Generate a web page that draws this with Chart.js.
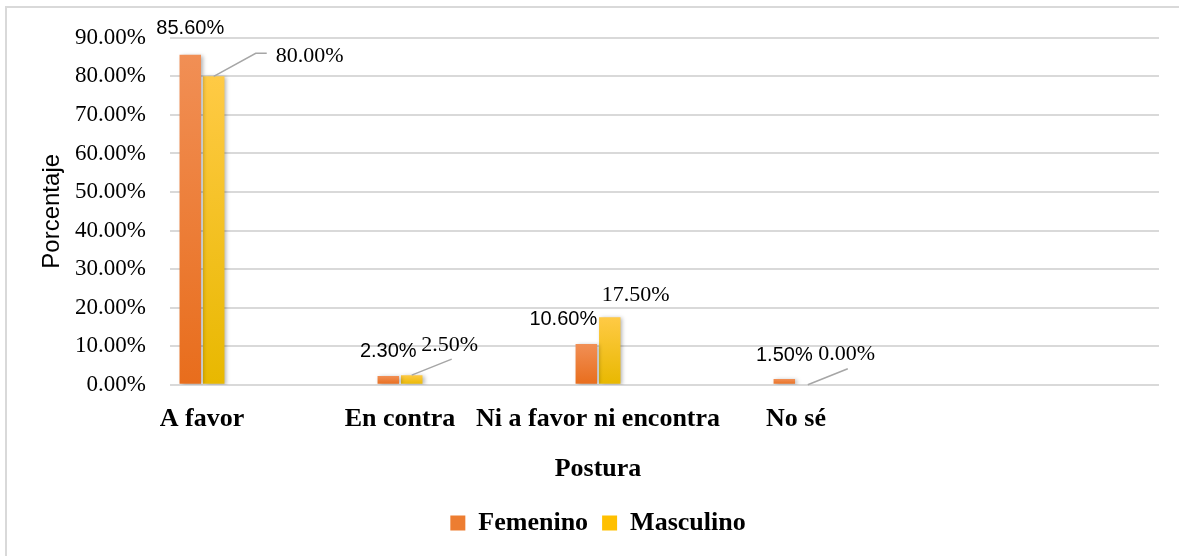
<!DOCTYPE html>
<html>
<head>
<meta charset="utf-8">
<script src="https://cdn.jsdelivr.net/npm/chart.js@4/dist/chart.umd.min.js"></script>
<style>
  body { margin: 0; background: #fff; }
  canvas { display: block; }
</style>
</head>
<body>
<canvas id="myChart" width="1179" height="556"></canvas>
<script>
// data
const categories = ['A favor', 'En contra', 'Ni a favor ni encontra', 'No sé'];
const femenino = [85.6, 2.3, 10.6, 1.5];
const masculino = [80.0, 2.5, 17.5, 0.0];
const seriesNames = ['Femenino', 'Masculino'];
const yTicks = [0, 10, 20, 30, 40, 50, 60, 70, 80, 90];

// label nudges (px from top centre of each bar), and leader lines
const labelShift = [
    [[0, -26], [0, -24], [-23, -24], [0, -24]],
    [[96, -20], [38, -30], [26, -22], [39, -31]]
];
const leaders = [
    [null, null, null, null],
    [[[42, -23], [53, -23]], [[40, -16]], null, [[40, -16]]]
];
const labelFonts = ['20px "Liberation Sans"', '22px "Liberation Serif"'];

function barGradient(top, bottom) {
    return function(ctx) {
        const chart = ctx.chart;
        if (!chart.chartArea || !ctx.parsed) return bottom;
        const y = chart.scales.y;
        const y0 = y.getPixelForValue(ctx.parsed.y);
        const y1 = y.getPixelForValue(0);
        if (y1 - y0 < 2) return bottom;
        const g = chart.ctx.createLinearGradient(0, y0, 0, y1);
        g.addColorStop(0, top);
        g.addColorStop(1, bottom);
        return g;
    };
}

const solid = ['#ED7D31', '#FFC000'];

const frame = {
    id: 'frame',
    beforeDraw(chart) {
        const c = chart.ctx;
        c.save();
        c.strokeStyle = '#d9d9d9';
        c.lineWidth = 2;
        c.beginPath();
        c.moveTo(6, 556);
        c.lineTo(6, 7);
        c.lineTo(1179, 7);
        c.stroke();
        c.restore();
    }
};

const barLabels = {
    id: 'barLabels',
    beforeDatasetsDraw(chart) {
        const c = chart.ctx;
        c.save();
        c.shadowColor = 'rgba(0,0,0,0.3)';
        c.shadowBlur = 4;
        c.shadowOffsetX = 2;
        c.shadowOffsetY = 1;
    },
    afterDatasetsDraw(chart) {
        const c = chart.ctx;
        c.restore();
        c.save();
        chart.data.datasets.forEach((ds, di) => {
            const meta = chart.getDatasetMeta(di);
            meta.data.forEach((bar, i) => {
                const v = ds.data[i].y;
                const sh = labelShift[di][i];
                const lines = leaders[di][i];
                if (lines) {
                    c.strokeStyle = '#a6a6a6';
                    c.lineWidth = 1.5;
                    c.beginPath();
                    c.moveTo(bar.x, bar.y);
                    lines.forEach(p => c.lineTo(bar.x + p[0], bar.y + p[1]));
                    c.stroke();
                }
                c.font = labelFonts[di];
                c.fillStyle = '#000';
                c.textAlign = 'center';
                c.textBaseline = 'middle';
                c.fillText(v.toFixed(2) + '%', bar.x + sh[0], bar.y + sh[1]);
            });
        });
        c.restore();
    }
};

const chart_data = {
    datasets: [{
        label: seriesNames[0],
        data: femenino.map((v, i) => ({x: i, y: v})),
        backgroundColor: barGradient('#F18F55', '#E86D1C'),
        categoryPercentage: 0.237,
        barPercentage: 0.915
    }, {
        label: seriesNames[1],
        data: masculino.map((v, i) => ({x: i, y: v})),
        backgroundColor: barGradient('#FFCA45', '#E8B800'),
        categoryPercentage: 0.237,
        barPercentage: 0.915
    }]
};

const boldSerif = {family: 'Liberation Serif', size: 26, weight: 'bold'};

const config = {
    type: 'bar',
    data: chart_data,
    plugins: [frame, barLabels],
    options: {
        responsive: false,
        animation: false,
        layout: {
            padding: {top: 37, right: 20, left: 37, bottom: 10}
        },
        plugins: {
            tooltip: {enabled: false},
            title: {
                display: true,
                text: 'Postura',
                position: 'bottom',
                weight: 500,
                color: '#000',
                font: boldSerif,
                padding: {top: 9, bottom: 11}
            },
            legend: {
                position: 'bottom',
                weight: 1000,
                labels: {
                    color: '#000',
                    font: boldSerif,
                    boxWidth: 15,
                    boxHeight: 15,
                    padding: 14,
                    generateLabels(chart) {
                        const items = Chart.defaults.plugins.legend.labels.generateLabels(chart);
                        items.forEach((it, i) => {
                            it.fillStyle = solid[i];
                            it.strokeStyle = solid[i];
                            it.lineWidth = 0;
                        });
                        return items;
                    }
                }
            }
        },
        scales: {
            x: {
                type: 'linear',
                offset: false,
                min: -0.1616,
                max: 4.833,
                grid: {display: false},
                border: {display: false},
                afterBuildTicks: scale => {
                    scale.ticks = categories.map((c, i) => ({value: i}));
                },
                afterFit: scale => { scale.height = 60; },
                ticks: {
                    autoSkip: false,
                    maxRotation: 0,
                    padding: 11,
                    color: '#000',
                    font: boldSerif,
                    callback: v => categories[v] ?? ''
                }
            },
            y: {
                min: 0,
                max: 90,
                grid: {color: '#d9d9d9', lineWidth: 2, drawTicks: false},
                border: {display: false},
                afterBuildTicks: scale => {
                    scale.ticks = yTicks.map(v => ({value: v}));
                },
                afterFit: scale => { scale.width = 133; },
                ticks: {
                    padding: 24,
                    color: '#000',
                    font: {family: 'Liberation Serif', size: 23},
                    callback: v => v.toFixed(2) + '%'
                },
                title: {
                    display: true,
                    text: 'Porcentaje',
                    color: '#000',
                    font: {family: 'Liberation Sans', size: 24},
                    padding: {top: 1, bottom: 0}
                }
            }
        }
    }
};

var myChart = new Chart(document.getElementById('myChart'), config);
</script>
</body>
</html>
